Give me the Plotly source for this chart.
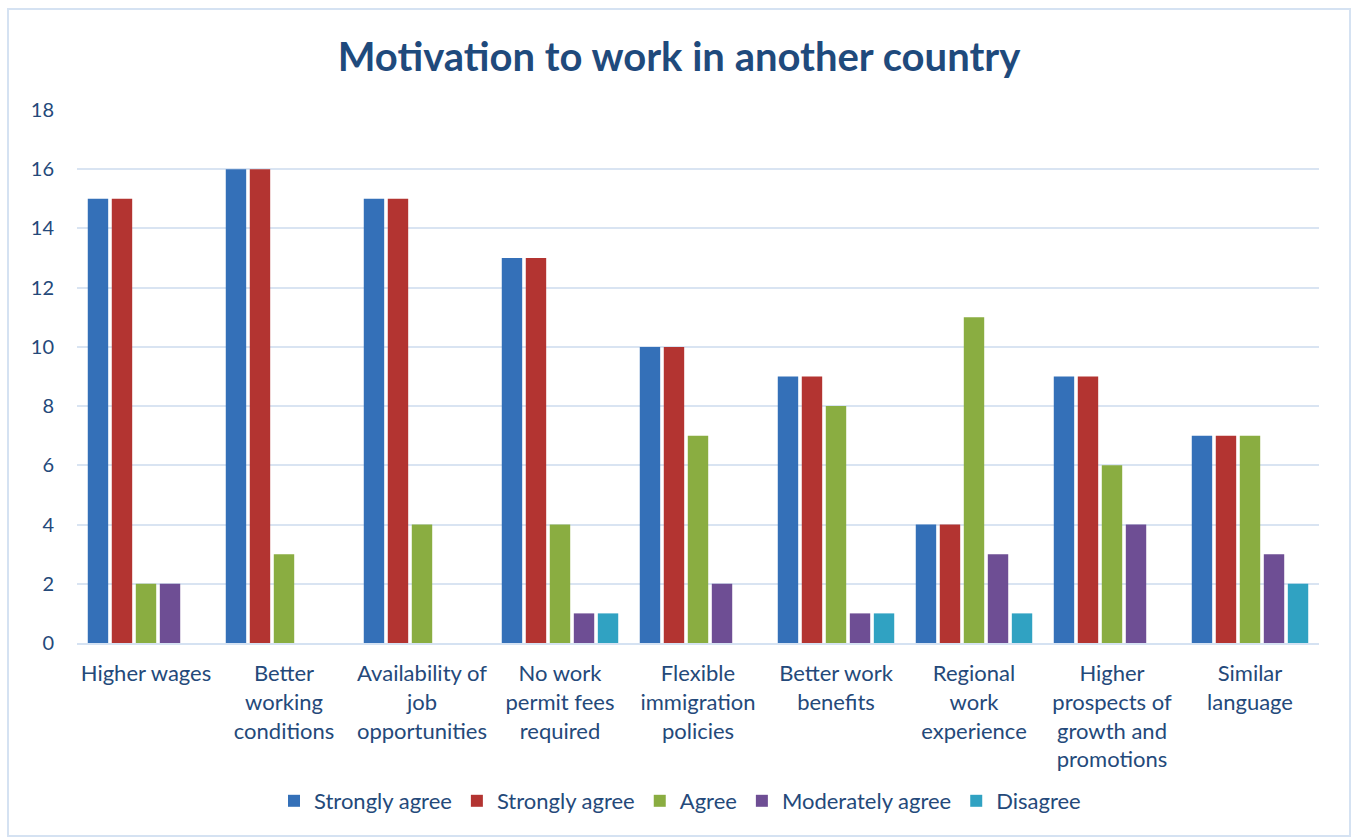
import plotly.graph_objects as go

categories = [
    "Higher wages",
    "Better<br>working<br>conditions",
    "Availability of<br>job<br>opportunities",
    "No work<br>permit fees<br>required",
    "Flexible<br>immigration<br>policies",
    "Better work<br>benefits",
    "Regional<br>work<br>experience",
    "Higher<br>prospects of<br>growth and<br>promotions",
    "Similar<br>language",
]
series_names = ["Strongly agree", "Strongly agree", "Agree", "Moderately agree", "Disagree"]
strongly_agree_1 = [15, 16, 15, 13, 10, 9, 4, 9, 7]
strongly_agree_2 = [15, 16, 15, 13, 10, 9, 4, 9, 7]
agree = [2, 3, 4, 4, 7, 8, 11, 6, 7]
moderately_agree = [2, 0, 0, 1, 2, 1, 3, 4, 3]
disagree = [0, 0, 0, 1, 0, 1, 1, 0, 2]
series_values = [strongly_agree_1, strongly_agree_2, agree, moderately_agree, disagree]
colors = ["#3470B8", "#B33431", "#8AAD41", "#6E4E94", "#30A2C2"]
y_ticks = [0, 2, 4, 6, 8, 10, 12, 14, 16, 18]

W, H = 1353, 837
ml, mr, mt, mb = 77, 34, 110, 194
pw, ph = W - ml - mr, H - mt - mb

FONT = "Lato"
TXT = "#24497A"

fig = go.Figure()
for name, vals, col in zip(series_names, series_values, colors):
    fig.add_trace(go.Bar(
        x=categories, y=vals, name=name,
        marker=dict(color=col, line=dict(width=0)),
    ))

def px_x(p):
    return (p - ml) / pw

def px_y(p):
    return (H - mb - p) / ph

fig.add_shape(type="rect", xref="paper", yref="paper",
              x0=px_x(8), x1=px_x(1350), y0=px_y(836), y1=px_y(9),
              line=dict(color="#D5E2F2", width=2), fillcolor="rgba(0,0,0,0)", layer="below")

fig.update_layout(
    width=W, height=H,
    margin=dict(l=ml, r=mr, t=mt, b=mb, pad=0),
    paper_bgcolor="white", plot_bgcolor="white",
    barmode="group", bargap=0.13, bargroupgap=0.15,
    font=dict(family=FONT, color=TXT, size=22),
    title=dict(text="<b>Motivation to work in another country</b>",
               x=679 / W, xanchor="center", xref="container",
               y=1 - 57 / H, yanchor="middle",
               font=dict(family=FONT, size=40, color="#1F4A7C")),
    showlegend=True,
    legend=dict(orientation="h", x=px_x(680), xanchor="center",
                y=px_y(801), yanchor="middle",
                font=dict(family=FONT, size=22, color=TXT),
                itemwidth=30, traceorder="normal"),
    xaxis=dict(showgrid=False, showline=True, linecolor="#D5E2F2", linewidth=2,
               ticks="", tickfont=dict(size=22, color=TXT), ticklabelstandoff=10),
    yaxis=dict(range=[0, 18], tickvals=y_ticks, showgrid=True,
               gridcolor="#D9E4F2", gridwidth=1.5, zeroline=False,
               showline=False, ticks="", tickfont=dict(size=20, color=TXT),
               ticklabelstandoff=22),
)

fig.write_html("out.html")
